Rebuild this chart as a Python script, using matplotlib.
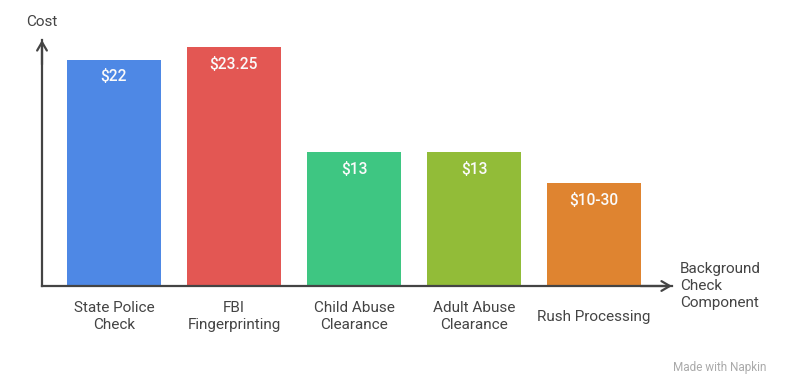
import matplotlib.pyplot as plt
from matplotlib.transforms import blended_transform_factory

plt.rcParams['font.family'] = ['Roboto', 'DejaVu Sans']

categories = ['State Police\nCheck', 'FBI\nFingerprinting', 'Child Abuse\nClearance',
              'Adult Abuse\nClearance', 'Rush Processing']
costs = [22, 23.25, 13, 13, 10]
value_labels = ['$22', '$23.25', '$13', '$13', '$10-30']
colors = ['#4E88E5', '#E35753', '#3EC682', '#92BC38', '#DF8430']

fig = plt.figure(figsize=(7.98, 3.86), dpi=100)
ax = fig.add_axes([42 / 798, 100 / 386, 630 / 798, 246 / 386])

x = list(range(len(categories)))
ax.bar(x, costs, width=0.783, color=colors)
ax.set_xlim(-0.6, 4.65)
ax.set_ylim(0, 23.95)

for s in ['top', 'right']:
    ax.spines[s].set_visible(False)
for s in ['left', 'bottom']:
    ax.spines[s].set_color('#444444')
    ax.spines[s].set_linewidth(1.6)
ax.set_xticks([])
ax.set_yticks([])

# open arrow heads
ax.annotate('', xy=(0, 1.0), xytext=(0, 0.9), xycoords='axes fraction',
            arrowprops=dict(arrowstyle='->,head_length=0.6,head_width=0.35',
                            color='#444444', lw=1.6, shrinkA=0, shrinkB=0))
ax.annotate('', xy=(1.0, 0), xytext=(0.95, 0), xycoords='axes fraction',
            arrowprops=dict(arrowstyle='->,head_length=0.6,head_width=0.35',
                            color='#444444', lw=1.6, shrinkA=0, shrinkB=0))

trans = blended_transform_factory(ax.transData, ax.transAxes)
for xi, c, v, lab in zip(x, costs, value_labels, categories):
    ax.text(xi, c - 1.65, v, ha='center', va='center',
            color='#FAFAFA', fontsize=11.2, fontweight='medium')
    ax.text(xi, -0.124, lab, transform=trans, ha='center', va='center',
            color='#444444', fontsize=11, linespacing=1.3)

ax.text(0, 1.073, 'Cost', transform=ax.transAxes, ha='center', va='center',
        color='#444444', fontsize=11)
ax.text(1.0127, 0, 'Background\nCheck\nComponent', transform=ax.transAxes,
        ha='left', va='center', color='#444444', fontsize=11, linespacing=1.3)

fig.text(720 / 798, 1 - 368 / 386, 'Made with Napkin', ha='center', va='center',
         color='#AAAAAA', fontsize=8.5)

fig.savefig('out.png', dpi=100)
